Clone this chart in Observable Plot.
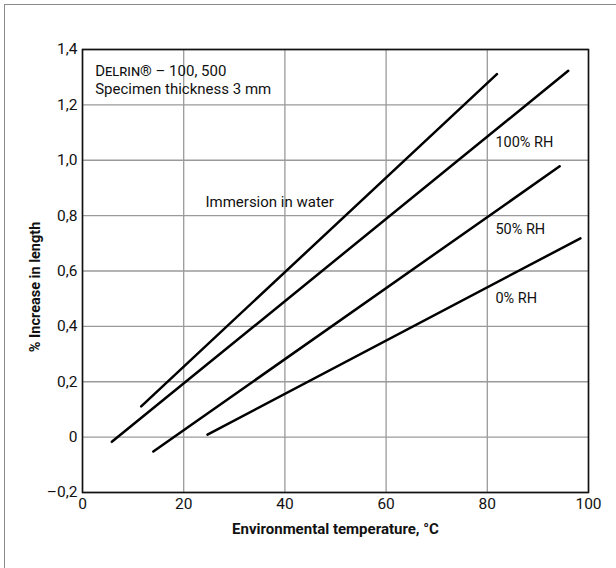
<!DOCTYPE html>
<html>
<head>
<meta charset="utf-8">
<script src="https://cdn.jsdelivr.net/npm/d3@7"></script>
<script src="https://cdn.jsdelivr.net/npm/@observablehq/plot@0.6"></script>
<style>
  html, body { margin: 0; padding: 0; background: #fff; }
  #wrap { position: relative; width: 616px; height: 568px; overflow: hidden; }
  #border { position: absolute; left: 4px; top: 4px; width: 640px; height: 600px; border: 1.5px solid #8a8a8a; box-sizing: border-box; }
  #chart { position: absolute; left: 0; top: 0; }
</style>
</head>
<body>
<div id="wrap"><div id="border"></div><div id="chart"></div></div>
<script>
// Tick values and labels
const xTicks = [0, 20, 40, 60, 80, 100];
const yTicks = [-0.2, 0, 0.2, 0.4, 0.6, 0.8, 1.0, 1.2, 1.4];
const yTickLabels = ["\u20130,2", "0", "0,2", "0,4", "0,6", "0,8", "1,0", "1,2", "1,4"];

// Series: straight lines, start and end points
const seriesNames = ["Immersion in water", "100% RH", "50% RH", "0% RH"];
const startTemp = [11.6, 5.8, 14.0, 24.7];
const startIncrease = [0.111, -0.017, -0.052, 0.009];
const endTemp = [81.9, 96.0, 94.3, 98.4];
const endIncrease = [1.311, 1.323, 0.978, 0.718];

// Annotation texts and their anchor points (data coordinates)
const seriesLabelTemp = [24.3, 81.6, 81.6, 81.6];
const seriesLabelValue = [0.85, 1.063, 0.749, 0.50];
const noteLines = ["Delrin\u00AE \u2013 100, 500", "Specimen thickness 3 mm"];
const noteTemp = [2.5, 2.5];
const noteValue = [1.323, 1.258];

const xTitle = "Environmental temperature, \u00B0C";
const yTitle = "% Increase in length";

const rows = seriesNames.flatMap((s, i) => [
  {series: s, t: startTemp[i], v: startIncrease[i]},
  {series: s, t: endTemp[i], v: endIncrease[i]}
]);
const seriesLabels = seriesNames.map((s, i) => ({text: s, t: seriesLabelTemp[i], v: seriesLabelValue[i]}));
const notes = noteLines.map((s, i) => ({text: s, t: noteTemp[i], v: noteValue[i]}));

const font = "Roboto, 'Liberation Sans', sans-serif";

const chart = Plot.plot({
  width: 616,
  height: 568,
  marginLeft: 82,
  marginRight: 28,
  marginTop: 49,
  marginBottom: 76,
  style: {fontFamily: font, fontSize: "15px", color: "#111", background: "transparent"},
  x: {domain: [0, 100]},
  y: {domain: [-0.2, 1.4]},
  marks: [
    Plot.gridX(xTicks, {stroke: "#9a9a9a", strokeOpacity: 1, strokeWidth: 1.3}),
    Plot.gridY(yTicks, {stroke: "#9a9a9a", strokeOpacity: 1, strokeWidth: 1.3}),
    Plot.axisX(xTicks, {tickSize: 0, tickPadding: 5, label: null, fontSize: 15.5, fontFamily: font}),
    Plot.axisY(yTicks, {tickSize: 0, tickPadding: 5, label: null, fontSize: 15.5, fontFamily: font,
      tickFormat: (d) => yTickLabels[yTicks.indexOf(d)]}),
    Plot.frame({stroke: "#111", strokeWidth: 1.6}),
    Plot.line(rows, {x: "t", y: "v", z: "series", stroke: "#000", strokeWidth: 2.5}),
    Plot.text(seriesLabels.slice(0, 1), {x: "t", y: "v", text: "text", textAnchor: "start", fontSize: 15, fill: "#111"}),
    Plot.text(seriesLabels.slice(1), {x: "t", y: "v", text: "text", textAnchor: "start", fontSize: 14.5, fill: "#111"}),
    Plot.text(notes.slice(0, 1), {x: "t", y: "v", text: "text", textAnchor: "start", fontSize: 15, fontVariant: "small-caps", fill: "#111"}),
    Plot.text(notes.slice(1), {x: "t", y: "v", text: "text", textAnchor: "start", fontSize: 15, fill: "#111"}),
    Plot.text([xTitle], {frameAnchor: "bottom", lineAnchor: "middle", textAnchor: "middle", dy: 37, fontSize: 15, fontWeight: "bold", fill: "#111"}),
    Plot.text([yTitle], {frameAnchor: "left", lineAnchor: "middle", textAnchor: "middle", dx: -47, dy: 16, rotate: -90, fontSize: 14.5, fontWeight: "bold", fill: "#111"})
  ]
});
document.getElementById("chart").appendChild(chart);
</script>
</body>
</html>
